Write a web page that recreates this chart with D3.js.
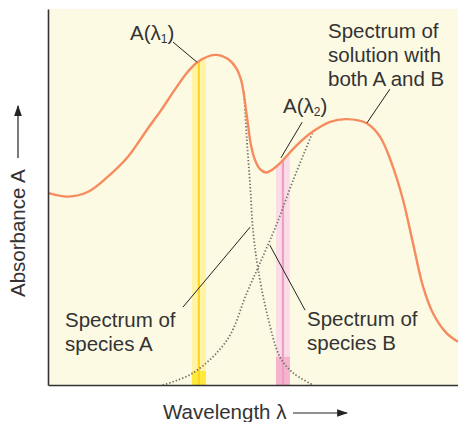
<!DOCTYPE html>
<html><head><meta charset="utf-8">
<script src="https://cdn.jsdelivr.net/npm/d3@7"></script>
<style>
html,body{margin:0;padding:0;background:#fff;}
svg{display:block;font-family:"Liberation Sans",Arial,Helvetica,sans-serif;}
</style></head>
<body>
<svg id="chart" width="458" height="422"></svg>
<script>
// ---- data (wavelength in arbitrary units 0-100, absorbance 0-1) ----
const mixWavelength = [0, 4.9, 9.8, 14.6, 19.5, 24.4, 27.6, 30.9, 34.1, 36.6, 40.7, 43.9, 45.9, 47.1, 47.8, 48.3, 48.8, 49.5, 50.5, 51.7, 53.2, 54.6, 56.6, 60.7, 64.6, 68.8, 72.9, 77.7, 81.0, 84.1, 86.6, 89.0, 91.5, 93.9, 97.2, 100];
const mixAbsorbance = [0.511, 0.501, 0.514, 0.554, 0.607, 0.683, 0.731, 0.785, 0.833, 0.860, 0.878, 0.867, 0.843, 0.811, 0.771, 0.731, 0.691, 0.638, 0.598, 0.574, 0.565, 0.572, 0.590, 0.638, 0.674, 0.700, 0.707, 0.696, 0.660, 0.581, 0.492, 0.378, 0.261, 0.191, 0.138, 0.115];
const speciesAWavelength = [47.8, 48.5, 49.3, 50, 51.2, 53.4, 56.6, 59.8, 64.6];
const speciesAAbsorbance = [0.779, 0.652, 0.532, 0.412, 0.311, 0.191, 0.074, 0.032, 0];
const speciesBWavelength = [28, 35.4, 43.7, 48.5, 51.7, 55.9, 59.8, 64.6];
const speciesBAbsorbance = [0, 0.032, 0.12, 0.245, 0.324, 0.431, 0.545, 0.673];
const bandNames = ["λ1", "λ2"];
const bandCenters = [36.8, 57.3];
const bandWidths = [3.4, 3.4];

const W = 458, H = 422;
const margin = {left: 48, right: 0, top: 9, bottom: 37};
const svg = d3.select("#chart");
const x = d3.scaleLinear().domain([0, 100]).range([margin.left, W - margin.right]);
const y = d3.scaleLinear().domain([0, 1]).range([H - margin.bottom, margin.top]);

const mix = mixWavelength.map((w, i) => ({x: w, y: mixAbsorbance[i]}));
const spA = speciesAWavelength.map((w, i) => ({x: w, y: speciesAAbsorbance[i]}));
const spB = speciesBWavelength.map((w, i) => ({x: w, y: speciesBAbsorbance[i]}));

// background
svg.append("rect").attr("x", x(0)).attr("y", y(1)).attr("width", x(100) - x(0)).attr("height", y(0) - y(1)).attr("fill", "#fdfae4");

const curve = d3.curveCatmullRom.alpha(0.5);
const line = d3.line().x(d => x(d.x)).y(d => y(d.y)).curve(curve);
const area = d3.area().x(d => x(d.x)).y0(y(0)).y1(d => y(d.y)).curve(curve);

// clip to area under mixture spectrum
svg.append("clipPath").attr("id", "under").append("path").attr("d", area(mix));

const bandFill = ["#fff3a6", "#fadbe8"];
const bandLine = ["#ffd524", "#f19dc1"];
const bandFoot = ["#ffe93a", "#f5b3cd"];
const footTop = [0.037, 0.075];
const bands = svg.append("g").attr("clip-path", "url(#under)");
bandCenters.forEach((c, i) => {
  bands.append("rect").attr("x", x(c - bandWidths[i] / 2)).attr("width", x(bandWidths[i]) - x(0))
    .attr("y", y(1)).attr("height", y(0) - y(1)).attr("fill", bandFill[i]);
  bands.append("rect").attr("x", x(c - bandWidths[i] / 2)).attr("width", x(bandWidths[i]) - x(0))
    .attr("y", y(footTop[i])).attr("height", y(0) - y(footTop[i])).attr("fill", bandFoot[i]);
  bands.append("line").attr("x1", x(c)).attr("x2", x(c)).attr("y1", y(1)).attr("y2", y(0))
    .attr("stroke", bandLine[i]).attr("stroke-width", 2.2);
});

// dotted component spectra
[spA, spB].forEach(d => {
  svg.append("path").attr("d", d3.line().x(p => x(p.x)).y(p => y(p.y)).curve(d3.curveCatmullRom)(d))
    .attr("fill", "none").attr("stroke", "#74746c")
    .attr("stroke-width", 1.8).attr("stroke-dasharray", "1.4,2").attr("stroke-linecap", "butt");
});

// mixture spectrum
svg.append("path").attr("d", line(mix)).attr("fill", "none").attr("stroke", "#f68b5e").attr("stroke-width", 2.4);

// axes
svg.append("g").attr("transform", `translate(${x(0)},0)`)
  .call(d3.axisLeft(y).tickValues([]).tickSizeOuter(0))
  .call(g => g.select(".domain").attr("stroke", "#333").attr("stroke-width", 1.6));
svg.append("g").attr("transform", `translate(0,${y(0)})`)
  .call(d3.axisBottom(x).tickValues([]).tickSizeOuter(0))
  .call(g => g.select(".domain").attr("stroke", "#333").attr("stroke-width", 1.6));

// annotations
const txtColor = "#333";
const fs = 20.5;
const leaders = [
  [[30.5, 0.912], [36.3, 0.859]],
  [[62, 0.699], [56.8, 0.604]],
  [[83.4, 0.787], [77.8, 0.697]],
  [[32.9, 0.207], [49.3, 0.42]],
  [[62.7, 0.199], [54.1, 0.372]]
];
leaders.forEach(l => svg.append("line").attr("x1", x(l[0][0])).attr("y1", y(l[0][1]))
  .attr("x2", x(l[1][0])).attr("y2", y(l[1][1])).attr("stroke", "#222").attr("stroke-width", 1));

function lambdaLabel(px, py, sub) {
  const t = svg.append("text").attr("x", px).attr("y", py).attr("font-size", fs).attr("fill", txtColor);
  t.append("tspan").text("A(λ");
  t.append("tspan").text(sub).attr("font-size", 12).attr("dy", 3);
  t.append("tspan").text(")").attr("dy", -3);
}
lambdaLabel(130, 40, "1");
lambdaLabel(283, 113, "2");

function block(px, py, lines) {
  const t = svg.append("text").attr("x", px).attr("y", py).attr("font-size", fs).attr("fill", txtColor);
  lines.forEach((s, i) => t.append("tspan").attr("x", px).attr("dy", i ? 24 : 0).text(s));
}
block(328, 38, ["Spectrum of", "solution with", "both A and B"]);
block(65, 327, ["Spectrum of", "species A"]);
block(307, 326, ["Spectrum of", "species B"]);

// axis titles with arrows
svg.append("defs").append("marker").attr("id", "arr").attr("viewBox", "0 0 10 10").attr("refX", 9).attr("refY", 5)
  .attr("markerWidth", 11).attr("markerHeight", 11).attr("markerUnits", "userSpaceOnUse").attr("orient", "auto")
  .append("path").attr("d", "M0,1.5 L10,5 L0,8.5 Z").attr("fill", "#222");
svg.append("text").attr("x", 163).attr("y", 419).attr("font-size", fs).attr("fill", txtColor).text("Wavelength λ");
svg.append("line").attr("x1", 293).attr("x2", 347).attr("y1", 413).attr("y2", 413).attr("stroke", "#222").attr("stroke-width", 1.2).attr("marker-end", "url(#arr)");
svg.append("text").attr("transform", "translate(25,297) rotate(-90)").attr("font-size", fs).attr("fill", txtColor).text("Absorbance A");
svg.append("line").attr("x1", 18).attr("x2", 18).attr("y1", 158).attr("y2", 106).attr("stroke", "#222").attr("stroke-width", 1.2).attr("marker-end", "url(#arr)");
</script>
</body></html>
